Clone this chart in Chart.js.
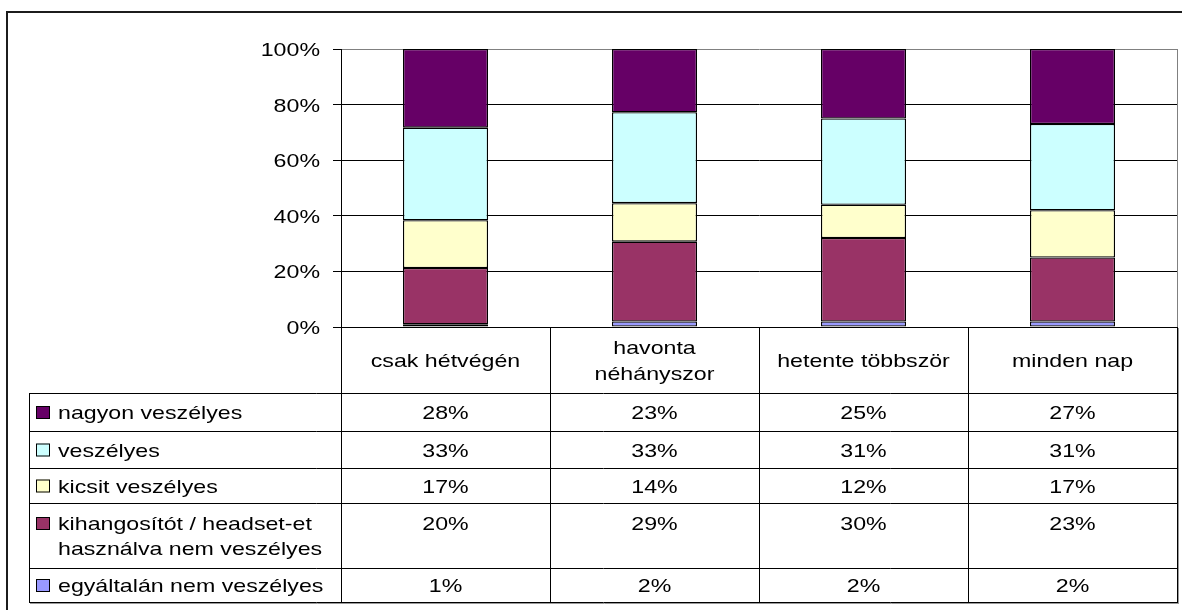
<!DOCTYPE html>
<html>
<head>
<meta charset="utf-8">
<script src="https://cdn.jsdelivr.net/npm/chart.js@4.4.1/dist/chart.umd.min.js"></script>
<style>
  html, body { margin: 0; padding: 0; background: #fff; }
  canvas { display: block; }
</style>
</head>
<body>
<canvas id="chart" width="1182" height="610"></canvas>
<script>
// categories (header cells, split in lines)
const categories = [['csak hétvégén'], ['havonta', 'néhányszor'], ['hetente többször'], ['minden nap']];
// series values in %, as shown in the data table
const nagyonVeszelyes = [28, 23, 25, 27];
const veszelyes = [33, 33, 31, 31];
const kicsitVeszelyes = [17, 14, 12, 17];
const kihangositotHasznalva = [20, 29, 30, 23];
const egyaltalanNem = [1, 2, 2, 2];
const yTicks = [0, 20, 40, 60, 80, 100];

// legend rows, top to bottom as in the table
const rows = [
  { lines: ['nagyon veszélyes'], values: nagyonVeszelyes, color: '#660066' },
  { lines: ['veszélyes'], values: veszelyes, color: '#ccffff' },
  { lines: ['kicsit veszélyes'], values: kicsitVeszelyes, color: '#ffffcc' },
  { lines: ['kihangosítót / headset-et', 'használva nem veszélyes'], values: kihangositotHasznalva, color: '#993366' },
  { lines: ['egyáltalán nem veszélyes'], values: egyaltalanNem, color: '#9999ff' },
];

const FONT = '19px "Liberation Sans", Arial, sans-serif';
const SX = 1.22; // the picture is stretched sideways
const ROW_Y = [393, 431, 468, 503, 568, 602];

// 100% stacked: each column scaled to its own total
const totals = categories.map((_, i) => rows.reduce((s, r) => s + r.values[i], 0));
const pct = (arr) => arr.map((v, i) => v / totals[i] * 100);

function txt(ctx, s, x, y, align) {
  ctx.save();
  ctx.translate(x, y);
  ctx.scale(SX, 1);
  ctx.textAlign = align;
  ctx.textBaseline = 'alphabetic';
  ctx.fillText(s, 0, 0);
  ctx.restore();
}
function hline(ctx, x1, x2, y, color) {
  ctx.strokeStyle = color; ctx.lineWidth = 1;
  ctx.beginPath(); ctx.moveTo(x1, y + 0.5); ctx.lineTo(x2, y + 0.5); ctx.stroke();
}
function vline(ctx, x, y1, y2, color) {
  ctx.strokeStyle = color; ctx.lineWidth = 1;
  ctx.beginPath(); ctx.moveTo(x + 0.5, y1); ctx.lineTo(x + 0.5, y2); ctx.stroke();
}

const tablePlugin = {
  id: 'dataTable',
  afterDraw(chart) {
    const ctx = chart.ctx;
    const area = chart.chartArea;
    const xs = chart.scales.x;
    const ys = chart.scales.y;
    ctx.save();
    ctx.font = FONT;
    ctx.fillStyle = '#000';

    // y tick labels
    yTicks.forEach((v) => txt(ctx, v + '%', 320, ys.getPixelForValue(v) + 7, 'right'));

    // plot area right edge
    vline(ctx, area.right, area.top, ys.getPixelForValue(0), '#808080');

    // cell borders
    const centers = categories.map((_, i) => xs.getPixelForValue(i));
    const bounds = [area.left];
    for (let i = 0; i < centers.length - 1; i++) bounds.push(Math.round((centers[i] + centers[i + 1]) / 2));
    bounds.push(area.right);
    const y0 = ys.getPixelForValue(0);
    const left = 29;
    const bottom = ROW_Y[ROW_Y.length - 1];
    bounds.forEach((b) => vline(ctx, b, y0, bottom + 1, '#000'));
    vline(ctx, left, ROW_Y[0], bottom + 1, '#000');
    ROW_Y.forEach((y) => hline(ctx, left, area.right + 1, y, '#000'));
    hline(ctx, left + 1, area.right + 2, bottom + 1, '#999');
    vline(ctx, area.right + 1, y0 + 1, bottom + 2, '#999');

    // header: category names
    const headMid = (y0 + ROW_Y[0]) / 2;
    categories.forEach((lines, i) => {
      lines.forEach((t, k) => {
        const off = (k - (lines.length - 1) / 2) * 26.7;
        txt(ctx, t, centers[i], headMid + 7 + off, 'center');
      });
    });

    // rows: legend key + values
    rows.forEach((r, ri) => {
      const top = ROW_Y[ri], bot = ROW_Y[ri + 1];
      const base = r.lines.length > 1 ? top + 27 : (top + bot) / 2 + 7;
      ctx.fillStyle = r.color;
      ctx.fillRect(36, base - 13, 14, 13);
      ctx.strokeStyle = '#000'; ctx.lineWidth = 1;
      ctx.strokeRect(36.5, base - 12.5, 13, 12);
      ctx.fillStyle = '#000';
      r.lines.forEach((t, k) => txt(ctx, t, 58, base + k * 25, 'left'));
      r.values.forEach((v, i) => txt(ctx, v + '%', centers[i], base, 'center'));
    });

    // outer frame
    ctx.strokeStyle = '#1c1c1c'; ctx.lineWidth = 2;
    ctx.beginPath(); ctx.moveTo(7, 610); ctx.lineTo(7, 12); ctx.lineTo(1182, 12); ctx.stroke();
    ctx.restore();
  }
};

const stackOrder = rows.slice().reverse(); // bottom of the bar first
new Chart(document.getElementById('chart'), {
  type: 'bar',
  data: {
    labels: categories.map((c) => c.join(' ')),
    datasets: stackOrder.map((r) => ({
      label: r.lines.join(' '),
      data: pct(r.values),
      backgroundColor: r.color,
      borderColor: '#000',
      borderWidth: 1.3,
      borderSkipped: false,
      barPercentage: 85 / 209,
      categoryPercentage: 1,
    })),
  },
  options: {
    responsive: false,
    animation: false,
    devicePixelRatio: 1,
    layout: { padding: { left: 333, right: 5, top: 49, bottom: 283 } },
    plugins: { legend: { display: false }, tooltip: { enabled: false } },
    scales: {
      x: { stacked: true, display: false },
      y: {
        stacked: true, min: 0, max: 100,
        ticks: { display: false, stepSize: 20 },
        afterFit: (s) => { s.width = 8; },
        grid: {
          color: (c) => (c.tick && c.tick.value === 100 ? '#808080' : '#000'),
          tickColor: '#000', tickLength: 8, lineWidth: 1,
        },
        border: { display: true, color: '#000', width: 1 },
      },
    },
  },
  plugins: [tablePlugin],
});
</script>
</body>
</html>
